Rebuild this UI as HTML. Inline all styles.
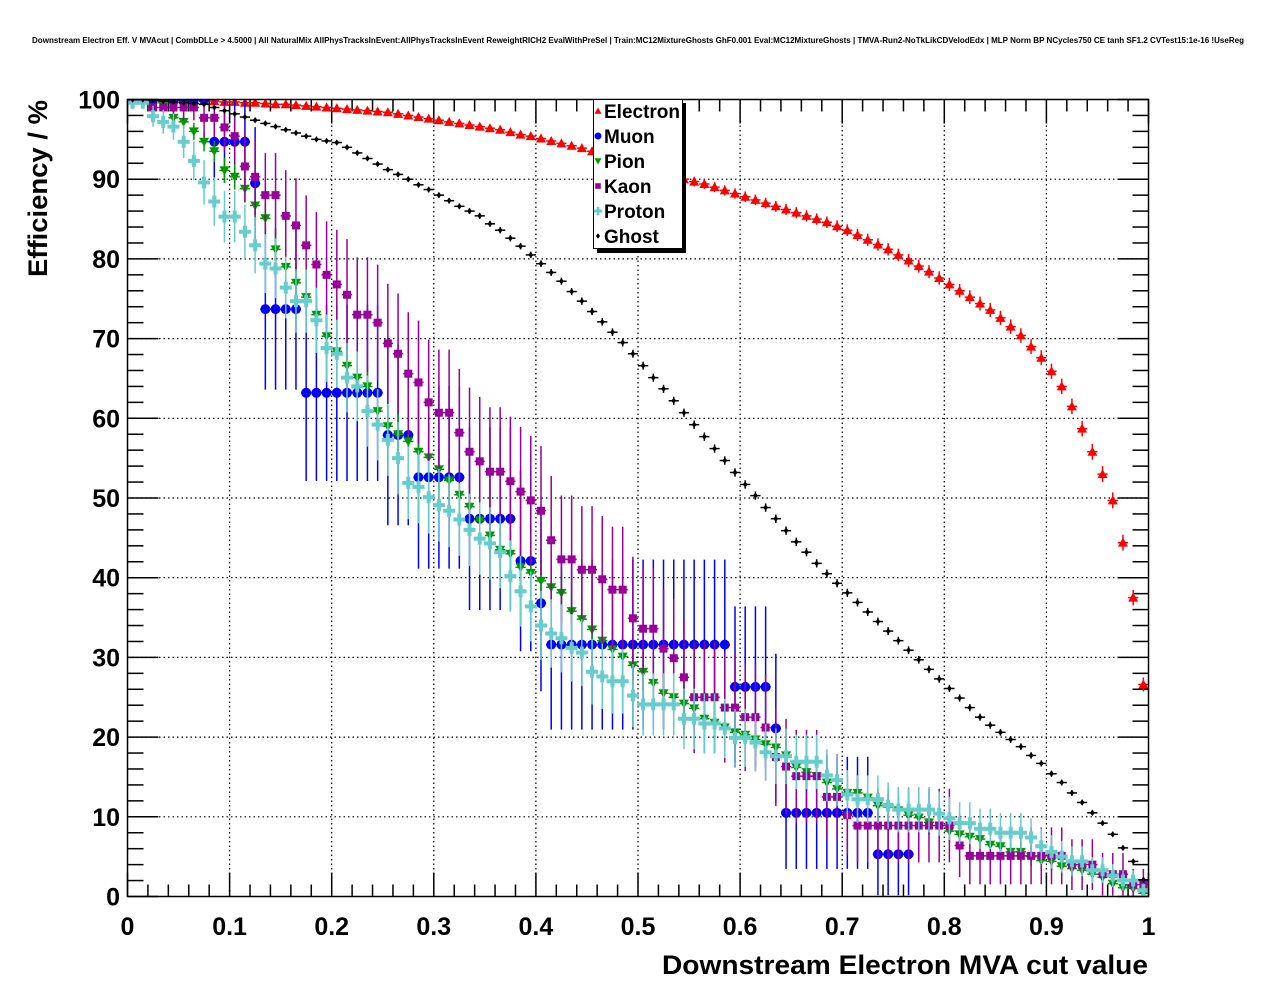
<!DOCTYPE html>
<html><head><meta charset="utf-8">
<style>
html,body{margin:0;padding:0;background:#fff;}
svg{display:block;font-family:"Liberation Sans",Arial,sans-serif;}
</style></head>
<body>
<svg id="chart" width="1276" height="996" viewBox="0 0 1276 996" xmlns="http://www.w3.org/2000/svg">
<rect x="0" y="0" width="1276" height="996" fill="#fff"/>
<text x="638" y="43" font-size="8.6" font-weight="bold" text-anchor="middle" textLength="1212" lengthAdjust="spacingAndGlyphs">Downstream Electron Eff. V MVAcut | CombDLLe &gt; 4.5000 | All NaturalMix AllPhysTracksInEvent:AllPhysTracksInEvent ReweightRICH2 EvalWithPreSel | Train:MC12MixtureGhosts GhF0.001 Eval:MC12MixtureGhosts | TMVA-Run2-NoTkLikCDVelodEdx | MLP Norm BP NCycles750 CE tanh SF1.2 CVTest15:1e-16 !UseReg</text>
<g id="grid"></g>
<g id="axes"></g>
<defs><clipPath id="plotclip"><rect x="127" y="99" width="1022" height="798"/></clipPath></defs>
<g id="series" clip-path="url(#plotclip)"></g>
<rect x="127.5" y="99.5" width="1021" height="797" fill="none" stroke="#000" stroke-width="1.5"/>
<text x="38" y="100" font-size="27" font-weight="bold" text-anchor="end" transform="rotate(-90 38 100)" dy="9" textLength="177" lengthAdjust="spacingAndGlyphs">Efficiency / %</text>
<text x="1148" y="974" font-size="27" font-weight="bold" text-anchor="end" textLength="486" lengthAdjust="spacingAndGlyphs">Downstream Electron MVA cut value</text>
<g id="legend">
<rect x="597" y="103" width="89" height="150" fill="#000"/>
<rect x="593.5" y="99.5" width="89" height="149" fill="#fff" stroke="#000" stroke-width="1"/>
</g>
</svg>
<script>
const bins = 100;
const xTickLabels = ["0","0.1","0.2","0.3","0.4","0.5","0.6","0.7","0.8","0.9","1"];
const yTickLabels = ["0","10","20","30","40","50","60","70","80","90","100"];
const seriesNames = ["Electron","Muon","Pion","Kaon","Proton","Ghost"];
const electron = [100,100,100,100,99.9,99.9,99.9,99.8,99.8,99.7,
99.7,99.6,99.6,99.5,99.4,99.4,99.3,99.2,99.1,99.0,
98.9,98.8,98.7,98.6,98.5,98.4,98.2,98.0,97.8,97.6,
97.4,97.2,97.0,96.8,96.6,96.4,96.2,95.9,95.6,95.4,
95.1,94.8,94.5,94.2,93.9,93.5,93.2,92.8,92.4,92.0,
91.6,91.2,90.8,90.4,90.0,89.7,89.4,89.0,88.6,88.2,
87.8,87.4,87.0,86.6,86.2,85.8,85.4,85.0,84.6,84.1,
83.6,83.0,82.4,81.8,81.2,80.5,79.8,79.1,78.4,77.6,
76.8,76.0,75.2,74.4,73.6,72.6,71.5,70.4,69.0,67.6,
65.9,64.0,61.5,58.7,55.8,53.0,49.7,44.4,37.5,26.6];
const muon = [100,100,100,100,100,100,100,100,94.7,94.7,
94.7,94.7,89.5,73.7,73.7,73.7,73.7,63.2,63.2,63.2,
63.2,63.2,63.2,63.2,63.2,57.9,57.9,57.9,52.6,52.6,
52.6,52.6,52.6,47.4,47.4,47.4,47.4,47.4,42.1,42.1,
36.8,31.6,31.6,31.6,31.6,31.6,31.6,31.6,31.6,31.6,
31.6,31.6,31.6,31.6,31.6,31.6,31.6,31.6,31.6,26.3,
26.3,26.3,26.3,21.1,10.5,10.5,10.5,10.5,10.5,10.5,
10.5,10.5,10.5,5.3,5.3,5.3,5.3,null,null,null,
null,null,null,null,null,null,null,null,null,null,
null,null,null,null,null,null,null,null,null,null];
const pion = [100,100,100,99.6,97.7,97.2,96.0,94.7,93.5,91.1,
90.3,88.8,86.7,85.1,81.2,79.0,77.0,75.2,73.0,70.3,
68.4,66.6,65.1,64.0,60.9,59.0,58.0,57.1,55.8,55.1,
53.6,52.2,50.4,48.9,47.2,45.3,43.5,43.0,41.3,40.6,
39.6,38.8,38.1,35.8,34.8,33.5,32.1,31.0,30.1,29.0,
28.2,26.8,25.5,25.0,24.2,23.6,22.3,21.8,21.2,20.6,
20.3,19.7,19.1,18.7,17.7,16.2,15.6,15.1,14.3,13.5,
13.0,13.0,12.4,11.4,11.2,10.8,10.2,9.9,9.3,8.9,
8.2,7.8,7.5,7.2,6.5,6.3,5.6,5.6,5.0,4.5,
4.4,3.8,3.5,3.3,2.8,2.4,1.6,1.1,1.0,0.4];
const kaon = [100,100,99.0,99.0,99.0,99.0,99.0,97.7,97.7,96.5,
95.4,91.6,90.3,88.0,88.0,85.4,84.2,81.7,79.3,78.0,
76.8,75.5,73.0,73.0,72.0,69.4,68.1,65.6,64.5,62.0,
60.7,60.7,58.2,55.8,54.6,53.3,53.3,52.1,50.8,49.7,
48.4,44.7,42.3,42.3,41.0,41.0,39.8,38.5,38.5,34.9,
33.6,33.6,31.1,29.9,27.5,25.0,25.0,25.0,23.7,23.7,
22.5,22.5,21.2,17.5,16.3,15.1,15.1,15.1,12.5,12.5,
10.2,8.9,8.9,8.9,8.9,8.9,8.9,8.9,8.9,8.9,
8.9,6.4,5.1,5.1,5.1,5.1,5.1,5.1,5.1,5.1,
5.1,5.1,4.0,4.0,4.0,2.8,2.8,2.8,1.5,1.5];
const proton = [99.6,99.6,97.9,97.2,96.6,94.7,92.3,89.6,87.2,85.3,
85.3,83.4,81.7,79.4,78.8,76.4,74.7,74.7,72.3,68.8,
68.1,65.1,64.0,60.9,59.2,57.3,55.0,51.9,51.4,50.1,
49.1,48.4,47.3,46.0,44.9,44.3,43.2,40.2,38.3,36.4,
34.0,33.0,32.4,31.2,30.6,28.2,27.6,27.0,27.0,25.2,
24.1,24.1,24.1,24.1,22.3,22.3,21.7,21.7,21.1,19.9,
19.9,19.3,18.1,17.6,17.6,16.9,16.9,16.9,15.2,14.6,
12.8,12.2,12.2,12.2,11.4,10.9,10.9,10.9,10.9,10.4,
9.8,9.2,9.2,8.5,8.5,8.0,8.0,8.0,7.4,6.3,
5.6,5.0,4.4,4.4,3.3,3.3,2.6,2.0,2.0,0.8];
const ghost = [100,100,99.9,99.8,99.7,99.6,99.5,99.4,99.0,98.6,
98.2,97.8,97.4,97.0,96.6,96.2,95.8,95.4,95.0,94.8,
94.6,94.0,93.3,92.6,91.9,91.2,90.6,90.0,89.3,88.7,
88.0,87.3,86.6,86.0,85.4,84.4,83.6,82.6,81.6,80.5,
79.4,78.3,77.2,75.9,74.7,73.4,72.1,70.8,69.5,68.1,
66.6,65.1,63.7,62.2,60.7,59.2,57.7,56.2,54.7,53.2,
51.7,50.3,48.8,47.4,45.9,44.5,43.2,41.8,40.5,39.3,
38.1,36.9,35.7,34.5,33.3,32.1,30.9,29.7,28.5,27.3,
26.1,24.9,23.7,22.5,21.5,20.6,19.7,18.8,17.7,16.7,
15.4,14.3,13.0,11.8,10.5,9.2,7.8,6.1,4.4,2.1];
const sampleSizes = [2500,19,340,38,120,9000];

const X0=127.5, X1=1148.5, Y0=896.5, Y1=99.5;
const xScale = v => X0 + v*(X1-X0);
const yScale = p => Y0 - p/100*(Y0-Y1);
const NS="http://www.w3.org/2000/svg";
function mk(tag, attrs, parent){const e=document.createElementNS(NS,tag);for(const k in attrs)e.setAttribute(k,attrs[k]);parent.appendChild(e);return e;}

const grid=document.getElementById('grid'), axes=document.getElementById('axes'), ser=document.getElementById('series'), leg=document.getElementById('legend');

for(let i=0;i<=10;i++){
  const x=xScale(i/10), y=yScale(i*10);
  if(i>0&&i<10){
    const g1=mk('line',{x1:x,x2:x,y1:Y0,y2:Y1,stroke:'#000','stroke-width':1.2,'stroke-dasharray':'1.5,3'},grid);
    
    
    const g2=mk('line',{x1:X0,x2:X1,y1:y,y2:y,stroke:'#000','stroke-width':1.2,'stroke-dasharray':'1.5,3'},grid);
    
    
  }
  const xl=mk('text',{x:x,y:935,'font-size':25,'font-weight':'bold','text-anchor':'middle'},axes);
  xl.textContent=xTickLabels[i];
  
  
  const yl=mk('text',{x:120,y:y+9,'font-size':25,'font-weight':'bold','text-anchor':'end'},axes);
  yl.textContent=yTickLabels[i];
  
  
}
for(let i=0;i<=50;i++){
  const x=xScale(i/50), L=(i%5==0)?24:12;
  const t1=mk('line',{x1:x,x2:x,y1:Y0,y2:Y0-L,stroke:'#000','stroke-width':1.5},axes);
  
  
  const t2=mk('line',{x1:x,x2:x,y1:Y1,y2:Y1+L,stroke:'#000','stroke-width':1.5},axes);
  
  
  const y=yScale(i*2), M=(i%5==0)?31:16;
  const t3=mk('line',{x1:X0,x2:X0+M,y1:y,y2:y,stroke:'#000','stroke-width':1.5},axes);
  
  
  const t4=mk('line',{x1:X1,x2:X1-M,y1:y,y2:y,stroke:'#000','stroke-width':1.5},axes);
  
  
}

const colors=['#ff0000','#0000ff','#009900','#990099','#66cccc','#000000'];
function marker(type,cx,cy,col,parent,s){
  s=s||1;let e;
  if(type===0) e=mk('polygon',{points:`${cx},${cy-5*s} ${cx+5*s},${cy+4*s} ${cx-5*s},${cy+4*s}`,fill:col},parent);
  else if(type===1) e=mk('circle',{cx:cx,cy:cy,r:5*s,fill:col},parent);
  else if(type===2) e=mk('polygon',{points:`${cx-5*s},${cy-4*s} ${cx+5*s},${cy-4*s} ${cx},${cy+5*s}`,fill:col},parent);
  else if(type===3) e=mk('rect',{x:cx-4*s,y:cy-4*s,width:8*s,height:8*s,fill:col},parent);
  else if(type===4) e=mk('path',{d:`M${cx-2*s},${cy-6*s}h${4*s}v${4*s}h${4*s}v${4*s}h${-4*s}v${4*s}h${-4*s}v${-4*s}h${-4*s}v${-4*s}h${4*s}z`,fill:col},parent);
  else e=mk('polygon',{points:`${cx},${cy-4*s} ${cx+3*s},${cy} ${cx},${cy+4*s} ${cx-3*s},${cy}`,fill:col},parent);
  return e;
}
const allSeries=[electron,muon,pion,kaon,proton,ghost];
allSeries.forEach((vals,si)=>{
  const g=mk('g',{},ser);
  
  
  const N=sampleSizes[si], col=colors[si];
  vals.forEach((p,i)=>{
    if(p===null) return;
    const v=(i+0.5)/bins, cx=xScale(v), cy=yScale(p);
    const q=p/100, err=100*Math.sqrt(Math.max(q*(1-q),0)/N);
    const ex=mk('line',{x1:xScale(i/bins),x2:xScale((i+1)/bins),y1:cy,y2:cy,stroke:col,'stroke-width':1.5},g);
    
    
    if(err>0.3){
      const ey=mk('line',{x1:cx,x2:cx,y1:yScale(Math.min(100,p+err)),y2:yScale(Math.max(0,p-err)),stroke:col,'stroke-width':1.5},g);
      
      
    }
    const m=marker(si,cx,cy,col,g,si===5?0.8:1);
    
    
  });
});
seriesNames.forEach((nm,si)=>{
  const y=111+si*25;
  const m=marker(si,598,y,colors[si],leg,0.7);
  
  
  const t=mk('text',{x:604,y:y+7,'font-size':19,'font-weight':'bold'},leg);
  t.textContent=nm;
  
  
});
</script>
</body></html>
